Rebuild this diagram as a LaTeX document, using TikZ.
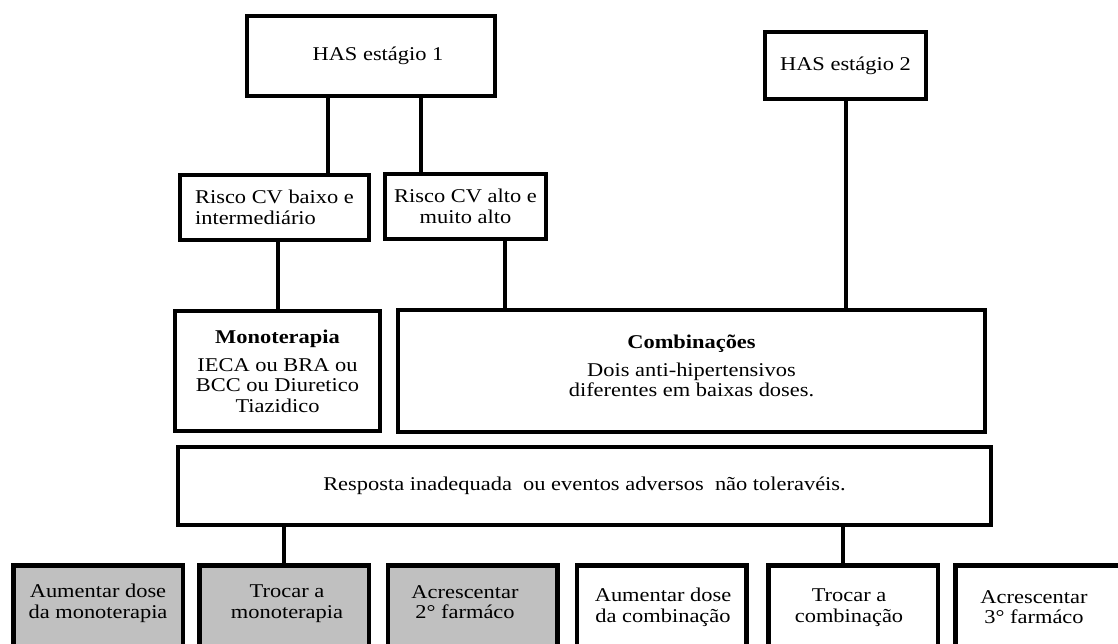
\documentclass[tikz,border=0pt]{standalone}
\usepackage{fontspec}
\setmainfont{Liberation Serif}[FakeStretch=1.15]
\definecolor{boxgray}{RGB}{192,192,192}
\newcommand\diagfont{\fontsize{19.5}{20.5}\selectfont}
\begin{document}
\begin{tikzpicture}[x=1pt,y=-1pt,
  box/.style={draw=black, line width=4pt, fill=white, inner sep=0pt, align=center, font=\diagfont},
  lowbox/.style={draw=black, line width=4.5pt, inner sep=0pt, minimum width=169.5pt, minimum height=140pt, anchor=north},
  graybox/.style={lowbox, fill=boxgray},
  whitebox/.style={lowbox, fill=white},
  lowtxt/.style={inner sep=0pt, align=center, font=\diagfont, anchor=north},
  conn/.style={draw=black, line width=4pt}]
\useasboundingbox (0,0) rectangle (1118,644);
\fill[white] (0,0) rectangle (1118,644);

% top row
\node[box, minimum width=248pt, minimum height=80pt] (has1) at (371,56) {\hspace*{14pt}HAS estágio 1};
\node[box, minimum width=161pt, minimum height=67pt] (has2) at (845.5,65.5) {HAS estágio 2};

% risk boxes
\node[box, align=left, minimum width=189pt, minimum height=65pt] (rb) at (274.5,207.5) {Risco CV baixo e\\intermediário};
\node[box, minimum width=161pt, minimum height=65pt] (ra) at (465.5,206.5) {Risco CV alto e\\muito alto};

% therapy boxes
\node[box, minimum width=205pt, minimum height=120pt] (mono) at (277.5,371) {\textbf{Monoterapia}\\[7.5pt]IECA ou BRA ou\\BCC ou Diuretico\\Tiazidico};
\node[box, minimum width=587pt, minimum height=122pt] (comb) at (691.5,371) {\textbf{Combinações}\\[7.5pt]Dois anti-hipertensivos\\diferentes em baixas doses.\\[-10pt]\mbox{}};

% response box
\node[box, minimum width=813pt, minimum height=78pt] (resp) at (584.5,486) {Resposta inadequada\ \ ou eventos adversos\ \ não toleravéis.};

% bottom row boxes
\node[graybox] (b1) at (98,563) {};
\node[graybox] (b2) at (284,563) {};
\node[graybox] (b3) at (472.5,563) {};
\node[whitebox] (b4) at (661.5,563) {};
\node[whitebox] (b5) at (853,563) {};
\node[whitebox] (b6) at (1040,563) {};

\node[lowtxt] (t1) at (98,584) {Aumentar dose\\da monoterapia};
\node[lowtxt] (t2) at (287,585) {Trocar a\\monoterapia};
\node[lowtxt] (t3) at (465,585) {Acrescentar\\2° farmáco};
\node[lowtxt] (t4) at (663,588) {Aumentar dose\\da combinação};
\node[lowtxt] (t5) at (849,589) {Trocar a\\combinação};
\node[lowtxt] (t6) at (1034,590) {Acrescentar\\3° farmáco};

% connector x positions
\coordinate (xA) at (328,0);
\coordinate (xB) at (421,0);
\coordinate (xD) at (505,0);
\coordinate (xG) at (843,0);

% connectors
\draw[conn] (has1.south -| xA) -- (rb.north -| xA);
\draw[conn] (has1.south -| xB) -- (ra.north -| xB);
\draw[conn] (mono.north |- rb.south) -- (mono.north);
\draw[conn] (ra.south -| xD) -- (comb.north -| xD);
\draw[conn] (has2.south) -- (comb.north -| has2.south);
\draw[conn] (resp.south -| b2.north) -- (b2.north);
\draw[conn] (resp.south -| xG) -- (b5.north -| xG);
\end{tikzpicture}
\end{document}
